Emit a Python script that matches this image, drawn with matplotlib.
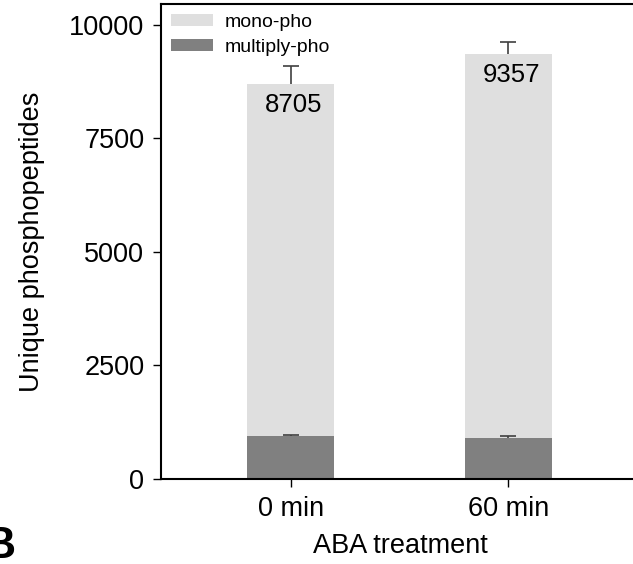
import matplotlib.pyplot as plt
import numpy as np

plt.rcParams['font.family'] = ['Liberation Sans', 'DejaVu Sans']

groups = ['0 min', '60 min']
total = [8705, 9357]
total_err = [390, 270]
multi = [945, 900]
multi_err = [18, 40]
mono = [t - m for t, m in zip(total, multi)]

x = np.arange(len(groups))

fig = plt.figure(figsize=(6.33, 5.64), dpi=100)
ax = fig.add_axes([0.2543, 0.1507, 0.755, 0.8422])

ax.bar(x, multi, width=0.4, color='#808080', label='multiply-pho', zorder=2)
ax.bar(x, mono, width=0.4, bottom=multi, color='#dfdfdf', label='mono-pho', zorder=2)

# upper-only error bars, T shaped (cap on top only)
for tops, errs in [(total, total_err), (multi, multi_err)]:
    ax.errorbar(x, tops, yerr=[[0, 0], errs], fmt='none', ecolor='#404040',
                elinewidth=1.2, capsize=0, zorder=3)
    ax.plot(x, np.array(tops) + np.array(errs), ls='none', marker='_',
            markersize=11, markeredgewidth=1.2, color='#404040', zorder=3)

for xi, t in zip(x, total):
    ax.annotate(str(t), (xi, t), xytext=(2, -15), textcoords='offset points',
                ha='center', va='center', fontsize=18.5, color='black', zorder=4)

ax.set_xlim(-0.597, 1.6)
ax.set_ylim(0, 10460)
ax.set_yticks([0, 2500, 5000, 7500, 10000])
ax.set_xticks(x)
ax.set_xticklabels(groups)
ax.tick_params(axis='both', direction='out', length=6, width=1, labelsize=19.5, pad=6)
ax.set_xlabel('ABA treatment', fontsize=19.5, labelpad=8)
ax.set_ylabel('Unique phosphopeptides', fontsize=19.5, labelpad=17)

for s in ['left', 'bottom', 'top']:
    ax.spines[s].set_linewidth(1.5)
ax.spines['right'].set_visible(False)

handles, labels = ax.get_legend_handles_labels()
ax.legend(handles[::-1], labels[::-1], loc='upper left', frameon=False, fontsize=14,
          handlelength=2.2, handleheight=0.6, handletextpad=0.6, labelspacing=0.4,
          borderaxespad=0.3, borderpad=0.2)

fig.text(-0.025, -0.005, 'B', fontsize=32, fontweight='bold', ha='left', va='bottom')

fig.savefig('out.png', dpi=100)
